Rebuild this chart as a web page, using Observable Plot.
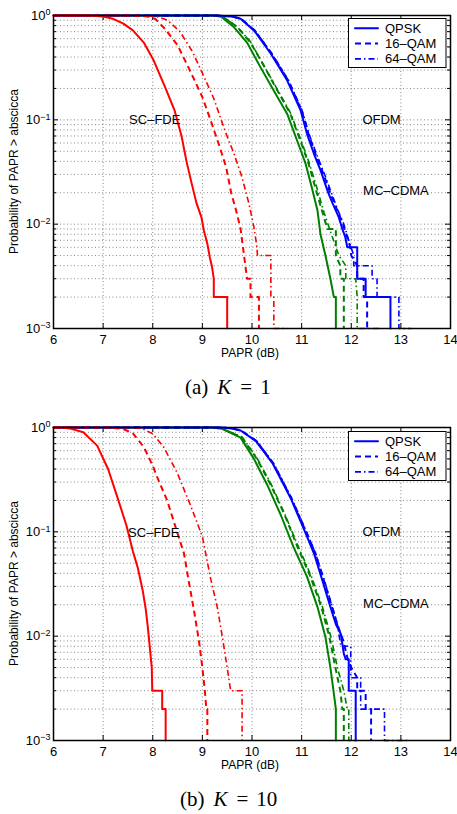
<!DOCTYPE html>
<html><head><meta charset="utf-8">
<script src="https://cdn.jsdelivr.net/npm/d3@7"></script>
<script src="https://cdn.jsdelivr.net/npm/@observablehq/plot@0.6"></script>
<style>
body{margin:0;background:#fff;}
#page{position:relative;width:457px;height:814px;overflow:hidden;background:#fff;}
.panel{position:absolute;left:0;}
#overlay{position:absolute;left:0;top:0;pointer-events:none;}
</style></head><body>
<div id="page"></div>
<script>
// ---------- axes ----------
const xTicks = [6, 7, 8, 9, 10, 11, 12, 13, 14];
const xGrid = [7, 8, 9, 10, 11, 12, 13];
const yMajor = [0.001, 0.01, 0.1, 1];
const yExp = ["−3", "−2", "−1", "0"];
const yMinor = [0.002,0.003,0.004,0.005,0.006,0.007,0.008,0.009,
                0.02,0.03,0.04,0.05,0.06,0.07,0.08,0.09,
                0.2,0.3,0.4,0.5,0.6,0.7,0.8,0.9];
const yGrid = [0.01, 0.1].concat(yMinor);

// ---------- labels ----------
const legendNames = ["QPSK", "16–QAM", "64–QAM"];
const schemeText = ["SC–FDE", "OFDM", "MC–CDMA"];
const schemeXA = [8.04, 12.61, 12.9];
const schemeYA = [0.1, 0.1, 0.021];
const schemeXB = [8.02, 12.61, 12.9];
const schemeYB = [0.097, 0.1, 0.0205];

// ---------- panel (a) K = 1 ----------
const a_sc_qpsk = [[6,1],[6.7,1],[7.0,0.98],[7.2,0.93],[7.4,0.84],[7.6,0.72],[7.82,0.55],[8.02,0.37],[8.24,0.21],[8.44,0.123],[8.58,0.07],[8.68,0.04],[8.78,0.025],[8.88,0.016],[8.98,0.0117],[9.03,0.0087],[9.10,0.0065],[9.15,0.0048],[9.19,0.004],[9.23,0.003],[9.23,0.002],[9.50,0.002],[9.50,0.001]];
const a_sc_16 = [[6,1],[7.6,1],[7.9,0.98],[8.05,0.93],[8.25,0.74],[8.5,0.52],[8.76,0.29],[9.0,0.165],[9.18,0.095],[9.36,0.053],[9.48,0.035],[9.58,0.02],[9.68,0.0135],[9.77,0.009],[9.84,0.005],[9.9,0.003],[9.97,0.003],[9.97,0.002],[10.14,0.002],[10.14,0.001]];
const a_sc_64 = [[6,1],[7.8,1],[8.1,0.97],[8.3,0.9],[8.55,0.7],[8.8,0.45],[9.0,0.28],[9.23,0.16],[9.45,0.08],[9.64,0.047],[9.80,0.028],[9.94,0.0156],[10.04,0.0093],[10.1,0.006],[10.11,0.005],[10.38,0.005],[10.38,0.002],[10.44,0.002],[10.44,0.001],[10.71,0.001]];
const a_of_qpsk = [[6,1],[9.3,1],[9.6,0.98],[9.77,0.93],[10.04,0.72],[10.38,0.43],[10.71,0.238],[10.98,0.123],[11.11,0.073],[11.25,0.047],[11.38,0.033],[11.52,0.021],[11.62,0.016],[11.75,0.0116],[11.82,0.009],[11.88,0.0075],[11.92,0.006],[12.12,0.006],[12.12,0.003],[12.29,0.003],[12.29,0.002],[12.79,0.002],[12.79,0.001]];
const a_of_16 = [[6,1],[9.3,1],[9.6,0.98],[9.78,0.93],[10.05,0.72],[10.4,0.43],[10.73,0.238],[11.0,0.123],[11.14,0.073],[11.28,0.047],[11.42,0.032],[11.56,0.021],[11.68,0.015],[11.8,0.011],[11.9,0.008],[11.98,0.006],[12.0,0.005],[12.12,0.004],[12.12,0.003],[12.25,0.003],[12.25,0.002],[12.32,0.002],[12.32,0.001]];
const a_of_64 = [[6,1],[9.3,1],[9.6,0.98],[9.78,0.93],[10.06,0.72],[10.4,0.43],[10.74,0.238],[11.01,0.123],[11.15,0.073],[11.3,0.047],[11.44,0.032],[11.6,0.02],[11.72,0.014],[11.85,0.01],[11.95,0.007],[12.05,0.005],[12.05,0.004],[12.42,0.004],[12.42,0.003],[12.52,0.003],[12.52,0.002],[12.96,0.002],[12.96,0.001],[13.2,0.001]];
const a_mc_qpsk = [[6,1],[9.2,1],[9.37,0.98],[9.64,0.77],[9.9,0.55],[10.17,0.32],[10.44,0.19],[10.71,0.114],[10.91,0.063],[11.08,0.038],[11.2,0.023],[11.32,0.0135],[11.38,0.008],[11.48,0.005],[11.58,0.003],[11.65,0.002],[11.69,0.002],[11.69,0.001]];
const a_mc_16 = [[6,1],[9.2,1],[9.4,0.98],[9.7,0.78],[9.97,0.55],[10.24,0.33],[10.5,0.195],[10.77,0.115],[10.97,0.064],[11.14,0.038],[11.27,0.023],[11.4,0.014],[11.52,0.009],[11.69,0.009],[11.69,0.005],[11.78,0.004],[11.78,0.003],[11.85,0.003],[11.85,0.001]];
const a_mc_64 = [[6,1],[9.2,1],[9.4,0.98],[9.7,0.78],[9.97,0.56],[10.24,0.33],[10.5,0.2],[10.77,0.118],[10.98,0.065],[11.15,0.039],[11.3,0.023],[11.45,0.013],[11.6,0.008],[11.75,0.005],[11.89,0.004],[11.89,0.003],[12.09,0.003],[12.12,0.002],[12.12,0.001],[12.6,0.001]];

// ---------- panel (b) K = 10 ----------
const b_sc_qpsk = [[6,1],[6.2,0.995],[6.36,0.97],[6.6,0.9],[6.88,0.67],[7.1,0.40],[7.28,0.22],[7.47,0.115],[7.6,0.065],[7.7,0.045],[7.8,0.027],[7.86,0.018],[7.9,0.0123],[7.94,0.0079],[7.98,0.005],[7.99,0.003],[8.19,0.003],[8.19,0.002],[8.26,0.002],[8.26,0.001]];
const b_sc_16 = [[6,1],[7.1,1],[7.4,0.97],[7.6,0.88],[7.82,0.65],[8.0,0.43],[8.09,0.334],[8.29,0.2],[8.49,0.1],[8.63,0.062],[8.71,0.037],[8.83,0.0177],[8.93,0.0091],[9.0,0.005],[9.05,0.003],[9.08,0.002],[9.10,0.002],[9.10,0.001]];
const b_sc_64 = [[6,1],[7.6,1],[7.8,0.97],[8.0,0.87],[8.22,0.65],[8.49,0.37],[8.76,0.18],[9.0,0.09],[9.17,0.035],[9.3,0.019],[9.4,0.01],[9.5,0.005],[9.57,0.003],[9.80,0.003],[9.80,0.001]];
const b_of_qpsk = [[6,1],[9.4,1],[9.6,0.98],[9.77,0.935],[10.08,0.74],[10.42,0.45],[10.78,0.21],[11.05,0.105],[11.25,0.062],[11.42,0.034],[11.58,0.019],[11.69,0.013],[11.79,0.0105],[11.85,0.0068],[11.89,0.006],[11.95,0.006],[11.95,0.003],[12.09,0.003],[12.09,0.001]];
const b_of_16 = [[6,1],[9.4,1],[9.6,0.98],[9.78,0.935],[10.09,0.74],[10.43,0.45],[10.79,0.21],[11.07,0.105],[11.28,0.062],[11.45,0.034],[11.6,0.02],[11.72,0.013],[11.84,0.009],[11.93,0.006],[12.0,0.005],[12.12,0.004],[12.12,0.003],[12.29,0.003],[12.29,0.002],[12.40,0.002],[12.40,0.001]];
const b_of_64 = [[6,1],[9.4,1],[9.6,0.98],[9.78,0.935],[10.1,0.74],[10.44,0.45],[10.8,0.21],[11.08,0.105],[11.28,0.062],[11.46,0.034],[11.62,0.019],[11.72,0.013],[11.79,0.008],[11.99,0.008],[11.99,0.004],[12.19,0.004],[12.19,0.002],[12.67,0.002],[12.67,0.001],[13.16,0.001]];
const b_mc_qpsk = [[6,1],[9.2,1],[9.4,0.97],[9.77,0.8],[10.04,0.5],[10.31,0.28],[10.58,0.145],[10.84,0.071],[11.11,0.037],[11.32,0.019],[11.48,0.0098],[11.58,0.005],[11.65,0.0028],[11.69,0.002],[11.69,0.001]];
const b_mc_16 = [[6,1],[9.2,1],[9.4,0.975],[9.8,0.8],[10.1,0.5],[10.38,0.28],[10.66,0.145],[10.92,0.071],[11.18,0.037],[11.4,0.019],[11.56,0.0098],[11.68,0.005],[11.78,0.003],[11.82,0.002],[11.85,0.002],[11.85,0.001]];
const b_mc_64 = [[6,1],[9.2,1],[9.4,0.975],[9.8,0.81],[10.1,0.51],[10.38,0.29],[10.66,0.148],[10.93,0.073],[11.2,0.037],[11.42,0.019],[11.6,0.0095],[11.72,0.005],[11.85,0.003],[11.92,0.002],[11.95,0.002],[11.95,0.001],[12.1,0.001]];

// ---------- styles ----------
const RED = "#ff0000", BLUE = "#0000ff", GREEN = "#008000";
const STY = [
  {width: 2, dash: null, cap: "round"},
  {width: 2, dash: "6,4", cap: "butt"},
  {width: 1.6, dash: "6,3,1.5,3", cap: "butt"}
];

const W = 457, H = 362, MT = 15, MB = 34, ML = 53, MR = 7;
const innerW = W - ML - MR, innerH = H - MT - MB;

function makePanel(groups, labX, labY, legendTop) {
  const labels = schemeText.map((t, i) => ({t, x: labX[i], y: labY[i]}));
  const lineMarks = [];
  for (const g of groups) {
    g.sets.forEach((data, i) => {
      const s = STY[i];
      lineMarks.push(Plot.line(data, {x: d => d[0], y: d => d[1], stroke: g.color,
        strokeWidth: s.width, strokeDasharray: s.dash || undefined, strokeLinecap: s.cap,
        strokeLinejoin: "round", curve: "linear"}));
    });
  }
  const gridStyle = {stroke: "#000", strokeOpacity: 0.6, strokeWidth: 0.8, strokeDasharray: "1,2.5"};
  const svg = Plot.plot({
    width: W, height: H, marginTop: MT, marginBottom: MB, marginLeft: ML, marginRight: MR,
    style: {fontFamily: "'Liberation Sans', Arial, Helvetica, sans-serif", fontSize: "13px", background: "#fff", color: "#000", overflow: "visible"},
    x: {domain: [6, 14], ticks: xTicks, tickSize: 0, tickPadding: 6, label: null, tickFormat: d => String(d)},
    y: {type: "log", domain: [0.001, 1], ticks: yMajor, tickSize: 0, tickPadding: 3, label: null,
        tickFormat: d => "10^" + yExp[yMajor.indexOf(d)]},
    marks: [
      Plot.ruleX(xGrid, {x: d => d, ...gridStyle}),
      Plot.ruleY(yGrid, {y: d => d, ...gridStyle}),
      Plot.tickX(xTicks, {x: d => d, insetTop: innerH - 5, stroke: "#000"}),
      Plot.tickX(xTicks, {x: d => d, insetBottom: innerH - 5, stroke: "#000"}),
      Plot.tickY(yMajor, {y: d => d, insetRight: innerW - 5, stroke: "#000"}),
      Plot.tickY(yMajor, {y: d => d, insetLeft: innerW - 5, stroke: "#000"}),
      Plot.tickY(yMinor, {y: d => d, insetRight: innerW - 3, stroke: "#000"}),
      Plot.tickY(yMinor, {y: d => d, insetLeft: innerW - 3, stroke: "#000"}),
      ...lineMarks,
      Plot.text(labels, {x: "x", y: "y", text: "t", fontSize: 13, fill: "#000"}),
      Plot.frame({stroke: "#000", strokeWidth: 1.5})
    ]
  });
  // superscript exponents on y tick labels
  svg.querySelectorAll('[aria-label^="y-axis"] text').forEach(t => {
    const s = t.textContent;
    if (s.indexOf("^") < 0) return;
    const [base, ex] = s.split("^");
    t.textContent = "";
    t.appendChild(document.createTextNode(base));
    const ts = document.createElementNS("http://www.w3.org/2000/svg", "tspan");
    ts.setAttribute("dy", "-0.5em");
    ts.setAttribute("font-size", "9px");
    ts.textContent = ex;
    t.appendChild(ts);
  });
  // legend
  const lg = d3.select(svg).append("g").attr("font-size", 13).attr("fill", "#000")
    .attr("text-anchor", "start");
  const lx = 348.5, lw = 97.5, lh = 49;
  lg.append("rect").attr("x", lx).attr("y", legendTop).attr("width", lw).attr("height", lh)
    .attr("fill", "#fff").attr("stroke", "#000").attr("stroke-width", 1);
  legendNames.forEach((name, i) => {
    const cy = legendTop + 9.8 + i * 15.3;
    const s = STY[i];
    lg.append("line").attr("x1", 355).attr("x2", 378).attr("y1", cy).attr("y2", cy)
      .attr("stroke", BLUE).attr("stroke-width", s.width)
      .attr("stroke-dasharray", s.dash || null).attr("stroke-linecap", s.cap);
    lg.append("text").attr("x", 385).attr("y", cy).attr("dy", "0.35em")
      .attr("text-anchor", "start").text(name);
  });
  return svg;
}

const page = document.getElementById("page");
const svgA = makePanel([
  {color: GREEN, sets: [a_mc_qpsk, a_mc_16, a_mc_64]},
  {color: BLUE, sets: [a_of_qpsk, a_of_16, a_of_64]},
  {color: RED, sets: [a_sc_qpsk, a_sc_16, a_sc_64]}
], schemeXA, schemeYA, 18.5);
svgA.classList.add("panel"); svgA.style.top = "0px";
page.appendChild(svgA);

const svgB = makePanel([
  {color: GREEN, sets: [b_mc_qpsk, b_mc_16, b_mc_64]},
  {color: BLUE, sets: [b_of_qpsk, b_of_16, b_of_64]},
  {color: RED, sets: [b_sc_qpsk, b_sc_16, b_sc_64]}
], schemeXB, schemeYB, 19.5);
svgB.classList.add("panel"); svgB.style.top = "412px";
page.appendChild(svgB);

// overlay: axis titles and captions
const ov = d3.select(page).append("svg").attr("id", "overlay").attr("width", 457).attr("height", 814);
const sans = "'Liberation Sans', Arial, Helvetica, sans-serif";
const serif = "'Liberation Serif', 'Times New Roman', serif";
[[0, "(a)", "1", 185], [412, "(b)", "10", 180]].forEach(([off, tag, kval, cx]) => {
  ov.append("text").attr("transform", `translate(14,${171.5 + off}) rotate(-90)`)
    .attr("text-anchor", "middle").attr("dy", "0.35em").attr("font-family", sans).attr("font-size", 12)
    .text("Probability of PAPR > abscicca");
  ov.append("text").attr("x", 250).attr("y", 357 + off).attr("text-anchor", "middle")
    .attr("font-family", sans).attr("font-size", 12).text("PAPR (dB)");
  const cap = ov.append("text").attr("x", cx).attr("y", 394 + off).attr("font-family", serif).attr("font-size", 21);
  cap.append("tspan").text(tag);
  cap.append("tspan").attr("dx", 9).attr("font-style", "italic").text("K");
  cap.append("tspan").attr("dx", 9).text("=");
  cap.append("tspan").attr("dx", 8).text(kval);
});
</script>
</body></html>
